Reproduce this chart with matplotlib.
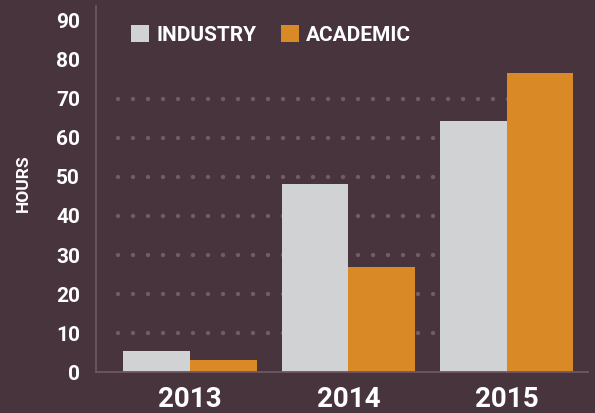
import matplotlib.pyplot as plt
import numpy as np

years = ["2013", "2014", "2015"]
industry = [5.4, 48.2, 64.3]
academic = [3.1, 26.9, 76.5]
grid_levels = [10, 20, 30, 40, 50, 60, 70]

BG = "#47343d"
GRAY = "#d1d2d4"
ORANGE = "#d98a27"
DOT = "#775a6a"
SPINE = "#6e5664"

plt.rcParams['font.family'] = ['Roboto', 'DejaVu Sans']
plt.rcParams['lines.scale_dashes'] = False

fig = plt.figure(figsize=(5.95, 4.13), dpi=100, facecolor=BG)
ax = fig.add_axes([0.1613, 0.0985, 0.8267, 0.887])
ax.set_facecolor(BG)

x = np.arange(len(years))
w = 0.42

# dotted grid
ax.hlines(grid_levels, -0.457, 2.47, colors=DOT, linewidth=3.2,
          linestyles=[(0, (0.001, 10.8))], capstyle='round', zorder=1)

ax.bar(x - w / 2, industry, w, color=GRAY, label='INDUSTRY', zorder=2)
ax.bar(x + w / 2, academic, w, color=ORANGE, label='ACADEMIC', zorder=2)

ax.set_xlim(-0.593, 2.511)
ax.set_ylim(0, 93.7)
ax.set_yticks(range(0, 91, 10))
ax.set_xticks(x)
ax.set_xticklabels(years)

for s in ['top', 'right']:
    ax.spines[s].set_visible(False)
for s in ['left', 'bottom']:
    ax.spines[s].set_color(SPINE)
    ax.spines[s].set_linewidth(1.3)

ax.tick_params(axis='y', length=0, pad=11.5, labelsize=15, labelcolor='white')
ax.tick_params(axis='x', length=0, pad=10, labelsize=20, labelcolor='white')
for lbl in ax.get_yticklabels() + ax.get_xticklabels():
    lbl.set_fontweight('bold')

ax.set_ylabel("HOURS", color='white', fontsize=12.5, fontweight='bold')
ax.yaxis.set_label_coords(-0.133, 0.517)

leg = ax.legend(loc='upper left', bbox_to_anchor=(131 / 595, 1 - 25 / 413),
                bbox_transform=fig.transFigure, ncol=2, frameon=False,
                handlelength=0.85, handleheight=0.85, handletextpad=0.35,
                columnspacing=1.2, borderpad=0, borderaxespad=0,
                prop={'size': 15, 'weight': 'bold'})
for t in leg.get_texts():
    t.set_color('white')

fig.savefig('out.png', dpi=100, facecolor=BG)
